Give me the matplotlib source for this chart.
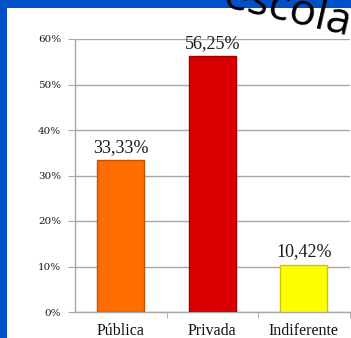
import matplotlib
matplotlib.use("Agg")
import matplotlib.pyplot as plt
from matplotlib.patches import Rectangle
from matplotlib.ticker import FixedLocator

categories = ["Pública", "Privada", "Indiferente"]
values = [33.33, 56.25, 10.42]
bar_colors = ["#FF6C00", "#DB0000", "#FFFF00"]
edge_colors = ["#C85000", "#A00000", "#C8C800"]
yticks = [0, 10, 20, 30, 40, 50, 60]
ytick_labels = ["0%", "10%", "20%", "30%", "40%", "50%", "60%"]
title_text = "escola"

W, H = 351, 338
fig = plt.figure(figsize=(W / 100, H / 100), dpi=100)
fig.patch.set_facecolor("#0050C8")

# white slide panel behind the chart
fig.patches.append(Rectangle((7 / W, 0), 1, 1 - 8 / H, transform=fig.transFigure,
                             facecolor="white", edgecolor="none", zorder=-1))

ax = fig.add_axes([75 / W, 1 - 312 / H, 274.5 / W, 273 / H])
ax.set_facecolor("white")
x = range(len(categories))
bars = ax.bar(x, values, width=0.515, color=bar_colors, edgecolor=edge_colors,
              linewidth=1.0, zorder=3)

for xi, v in zip(x, values):
    ax.annotate(f"{v:.2f}%".replace(".", ","), (xi, v), xytext=(0, 3),
                textcoords="offset points", ha="center", va="bottom",
                fontsize=13, family="Liberation Serif", color="#1a1a1a")

ax.set_xlim(-0.5, len(categories) - 0.5)
ax.set_ylim(0, 60)
ax.set_yticks(yticks)
ax.set_yticklabels(ytick_labels, family="DejaVu Serif", fontsize=7.5, color="#1a1a1a")
ax.grid(axis="y", color="#A6A6A6", linewidth=1.0, zorder=0)
ax.set_xticks(list(x))
ax.set_xticklabels(categories, family="Liberation Serif", fontsize=11.5, color="#111111")
ax.tick_params(axis="x", length=0, pad=8)
ax.tick_params(axis="y", length=5, color="#A6A6A6", pad=5)
ax.xaxis.set_minor_locator(FixedLocator([0.5, 1.5, 2.5]))
ax.tick_params(axis="x", which="minor", length=4, color="#A6A6A6", direction="out")
for side in ["top", "right"]:
    ax.spines[side].set_visible(False)
for side in ["left", "bottom"]:
    ax.spines[side].set_color("#A6A6A6")
    ax.spines[side].set_linewidth(1.0)

fig.text(222 / W, 1 - 7 / H, title_text, fontsize=32, family="Open Sans",
         color="black", rotation=-13, rotation_mode="anchor",
         ha="left", va="baseline")

fig.savefig("out.png", dpi=100, facecolor=fig.get_facecolor())
